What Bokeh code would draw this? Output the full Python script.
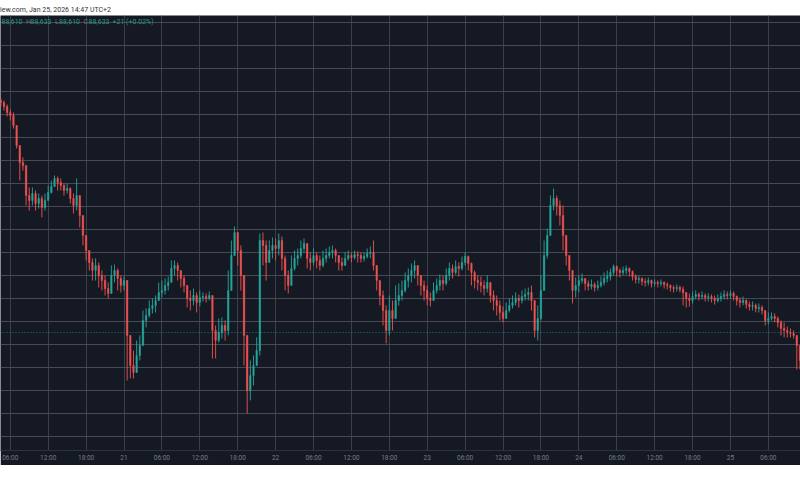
from bokeh.plotting import figure
from bokeh.models import (Range1d, FixedTicker, SingleIntervalTicker, Grid, Span,
                          Label, Div, ColumnDataSource)
from bokeh.layouts import column
from bokeh.embed import file_html
from bokeh.resources import INLINE

# ---------------- data (BTC/USD, 30-minute candles, UTC+2) ----------------
start_hour = 4.5      # first candle: 2026-01-20 04:30, hours after Jan 20 00:00
bar_hours = 0.5       # 30-minute candles
first_open = 91155

closes = [
    91133, 91090, 91025, 90992, 90883, 90666, 90481, 90448, 90122, 90068,
    90144, 90035, 90090, 89992, 90068, 90155, 90220, 90307, 90263, 90231,
    90177, 90198, 90090, 90014, 90122, 89905, 89688, 89524, 89394, 89307,
    89361, 89253, 89198, 89111, 89057, 89253, 89307, 89220, 89144, 89198,
    88601, 88274, 88198, 88383, 88492, 88764, 88818, 88894, 88927, 88981,
    89068, 89090, 89144, 89177, 89329, 89361, 89307, 89220, 89144, 89003,
    88981, 89035, 88959, 89014, 89024, 89003, 89035, 88655, 88546, 88633,
    88709, 88655, 89090, 89470, 89720, 89524, 89253, 88601, 88002, 88166,
    88274, 88437, 89633, 89579, 89394, 89524, 89579, 89546, 89633, 89438,
    89253, 89144, 89329, 89438, 89470, 89546, 89601, 89438, 89394, 89470,
    89416, 89361, 89438, 89470, 89503, 89524, 89470, 89394, 89361, 89438,
    89470, 89448, 89481, 89470, 89438, 89459, 89492, 89503, 89361, 89198,
    89035, 88872, 88655, 88872, 88785, 88981, 89035, 89090, 89198, 89253,
    89307, 89361, 89253, 89144, 89090, 89003, 88981, 89090, 89144, 89198,
    89166, 89253, 89329, 89285, 89350, 89329, 89394, 89459, 89383, 89285,
    89198, 89177, 89144, 89111, 89177, 89035, 88981, 88927, 88851, 88785,
    88872, 88927, 88959, 89003, 88981, 89024, 89046, 89068, 88981, 88655,
    88785, 89090, 89470, 89688, 90014, 90090, 90014, 89905, 89688, 89470,
    89307, 89090, 89144, 89198, 89220, 89166, 89133, 89155, 89122, 89144,
    89177, 89220, 89242, 89285, 89350, 89307, 89285, 89307, 89329, 89296,
    89242, 89209, 89220, 89188, 89177, 89198, 89166, 89177, 89166, 89177,
    89155, 89144, 89122, 89111, 89122, 89101, 89068, 89003, 88981, 89024,
    89046, 89024, 89035, 89014, 89024, 89003, 88981, 89003, 89024, 89046,
    89035, 89057, 89024, 88981, 88959, 88981, 88937, 88916, 88927, 88894,
    88905, 88872, 88764, 88785, 88807, 88785, 88742, 88677, 88655, 88633,
    88622, 88601, 88492, 88329,
]

highs = [
    91177, 91155, 91112, 91057, 91025, 90850, 90611, 90535, 90448, 90209,
    90209, 90177, 90144, 90122, 90144, 90231, 90285, 90340, 90329, 90307,
    90253, 90253, 90209, 90144, 90307, 90035, 89851, 89633, 89524, 89438,
    89438, 89394, 89307, 89253, 89177, 89361, 89372, 89329, 89253, 89242,
    89177, 88601, 88437, 88546, 88601, 88872, 88894, 88981, 89003, 89035,
    89177, 89198, 89220, 89242, 89416, 89416, 89394, 89307, 89253, 89111,
    89090, 89111, 89068, 89090, 89068, 89057, 89079, 89003, 88709, 88785,
    88796, 88764, 89307, 89633, 89785, 89688, 89579, 89253, 88437, 88329,
    88383, 88579, 89709, 89720, 89633, 89633, 89666, 89655, 89709, 89677,
    89470, 89307, 89470, 89524, 89546, 89633, 89655, 89546, 89503, 89546,
    89503, 89470, 89524, 89546, 89568, 89579, 89546, 89470, 89448, 89503,
    89524, 89503, 89524, 89514, 89503, 89503, 89546, 89568, 89633, 89361,
    89198, 89090, 88927, 89035, 88981, 89144, 89166, 89198, 89285, 89329,
    89383, 89416, 89361, 89253, 89198, 89144, 89068, 89177, 89220, 89264,
    89253, 89329, 89394, 89372, 89416, 89394, 89459, 89503, 89470, 89394,
    89307, 89253, 89242, 89198, 89253, 89144, 89090, 89035, 88981, 88916,
    88959, 89003, 89035, 89068, 89046, 89090, 89111, 89122, 89144, 88981,
    88927, 89253, 89633, 89764, 90122, 90198, 90122, 90068, 90014, 89633,
    89470, 89307, 89231, 89253, 89275, 89220, 89198, 89209, 89177, 89198,
    89242, 89285, 89307, 89329, 89372, 89361, 89329, 89350, 89361, 89340,
    89307, 89264, 89253, 89231, 89220, 89231, 89209, 89209, 89198, 89209,
    89188, 89177, 89155, 89144, 89155, 89144, 89133, 89068, 89057, 89079,
    89090, 89068, 89079, 89057, 89057, 89046, 89035, 89046, 89068, 89090,
    89079, 89090, 89079, 89035, 89014, 89024, 88992, 88970, 88970, 88948,
    88948, 88927, 88872, 88851, 88851, 88840, 88807, 88764, 88742, 88698,
    88677, 88655, 88601, 88492,
]

lows = [
    91090, 91046, 90981, 90938, 90850, 90633, 90285, 90394, 90014, 89959,
    90014, 89959, 89981, 89883, 89959, 90068, 90144, 90220, 90177, 90177,
    90122, 90144, 90035, 89927, 89959, 89775, 89579, 89416, 89307, 89198,
    89198, 89122, 89090, 89035, 89003, 89090, 89177, 89090, 89068, 89090,
    88111, 88133, 88133, 88274, 88329, 88492, 88688, 88796, 88840, 88851,
    88981, 89014, 89046, 89090, 89177, 89253, 89198, 89122, 89068, 88905,
    88872, 88927, 88851, 88916, 88970, 88959, 88981, 88351, 88351, 88524,
    88568, 88546, 88601, 89253, 89524, 89361, 89090, 88274, 87753, 87894,
    88057, 88329, 88383, 89361, 89198, 89394, 89438, 89416, 89470, 89307,
    89090, 89057, 89144, 89307, 89361, 89438, 89503, 89329, 89307, 89361,
    89329, 89307, 89340, 89394, 89438, 89438, 89394, 89307, 89307, 89361,
    89416, 89394, 89427, 89394, 89394, 89405, 89438, 89438, 89307, 89090,
    88927, 88709, 88514, 88601, 88655, 88818, 88927, 88981, 89068, 89122,
    89177, 89220, 89144, 89035, 88981, 88927, 88916, 89003, 89057, 89090,
    89090, 89144, 89198, 89220, 89264, 89242, 89307, 89361, 89307, 89144,
    89111, 89090, 89068, 89035, 89068, 88959, 88872, 88818, 88764, 88742,
    88785, 88851, 88894, 88927, 88905, 88948, 88981, 88981, 88872, 88579,
    88546, 88764, 89198, 89438, 89720, 89959, 89905, 89796, 89524, 89361,
    89198, 88948, 89014, 89068, 89166, 89090, 89090, 89101, 89079, 89090,
    89122, 89144, 89177, 89198, 89253, 89242, 89231, 89253, 89264, 89242,
    89198, 89166, 89166, 89144, 89133, 89144, 89122, 89133, 89122, 89133,
    89111, 89101, 89079, 89068, 89079, 89068, 88927, 88905, 88916, 88948,
    88992, 88981, 88992, 88970, 88970, 88959, 88937, 88959, 88970, 88992,
    88992, 89003, 88981, 88927, 88905, 88927, 88894, 88872, 88872, 88851,
    88851, 88829, 88709, 88720, 88764, 88742, 88688, 88601, 88579, 88579,
    88579, 88568, 88231, 88231,
]

# x-axis ticks (hours after 2026-01-20 00:00) and their labels
tick_hours = [6, 12, 18, 24, 30, 36, 42, 48, 54, 60, 66, 72,
              78, 84, 90, 96, 102, 108, 114, 120, 126]
tick_labels = ["06:00", "12:00", "18:00", "21", "06:00", "12:00", "18:00", "22",
               "06:00", "12:00", "18:00", "23", "06:00", "12:00", "18:00", "24",
               "06:00", "12:00", "18:00", "25", "06:00"]

# header / legend values (current bar)
header = "iew.com, Jan 25, 2026 14:47 UTC+2"
last_open, last_high, last_low, last_close = 88610, 88633, 88610, 88633
change, change_pct = 21, 0.02

# ---------------- styling ----------------
BG = "#151924"
UP = "#26a69a"
DOWN = "#ef5350"
HGRID = "#474a54"
VGRID = "#3c3f49"
AXIS_TXT = "#787b86"
FONT = "Roboto"

n = min(len(closes), len(highs), len(lows))
opens = [first_open] + closes[:n - 1]
xs = [start_hour + bar_hours * i for i in range(n)]
colors, tops, bottoms, wtop, wbot = [], [], [], [], []
for i in range(n):
    o, c, h, l = opens[i], closes[i], highs[i], lows[i]
    colors.append(UP if c >= o else DOWN)
    tops.append(max(o, c))
    bottoms.append(min(o, c))
    wtop.append(max(h, o, c))
    wbot.append(min(l, o, c))

src = ColumnDataSource(dict(x=xs, top=tops, bottom=bottoms, wt=wtop, wb=wbot, color=colors))

x0, x1 = 4.449, 131.09
y0, y1 = 87350, 92079

p = figure(width=800, height=450, output_backend="svg", toolbar_location=None,
           x_range=Range1d(x0, x1), y_range=Range1d(y0, y1),
           y_axis_location=None,
           min_border_left=0, min_border_right=0, min_border_top=0, min_border_bottom=15,
           background_fill_color=BG, border_fill_color=BG, outline_line_color=None)

# grids
ticker_x = FixedTicker(ticks=tick_hours)
p.xaxis.ticker = ticker_x
p.xgrid.ticker = ticker_x
p.xgrid.grid_line_color = VGRID
p.xgrid.grid_line_width = 1
p.add_layout(Grid(dimension=1, ticker=SingleIntervalTicker(interval=250, num_minor_ticks=0),
                  grid_line_color=HGRID, grid_line_width=1))

# x axis
p.xaxis.major_label_overrides = {h: lab for h, lab in zip(tick_hours, tick_labels)}
p.xaxis.major_tick_out = 0
p.xaxis.major_tick_in = 0
p.xaxis.minor_tick_out = 0
p.xaxis.minor_tick_in = 0
p.xaxis.axis_line_color = "#2e323e"
p.xaxis.major_label_text_color = AXIS_TXT
p.xaxis.major_label_text_font = FONT
p.xaxis.major_label_text_font_size = "6.5px"
p.xaxis.major_label_standoff = 3

# candles
p.segment(x0="x", y0="wt", x1="x", y1="wb", line_color="color", line_width=1,
          line_alpha=0.9, source=src)
p.vbar(x="x", width=bar_hours * 0.45, top="top", bottom="bottom",
       fill_color="color", line_color="color", line_width=0.5, source=src)

# current price line
p.add_layout(Span(location=last_close, dimension="width", line_color=UP,
                  line_dash="1 2", line_width=1, line_alpha=0.7))

# OHLC legend line
pieces = [
    (f"{last_open:,}", 1, UP),
    ("H", 25.5, AXIS_TXT), (f"{last_high:,}", 30, UP),
    ("L", 54.5, AXIS_TXT), (f"{last_low:,}", 58.5, UP),
    ("C", 83, AXIS_TXT), (f"{last_close:,}", 88, UP),
    (f"+{change} (+{change_pct:.2f}%)", 112, UP),
]
for txt, off, col in pieces:
    p.add_layout(Label(x=x0, y=y1, x_offset=off, y_offset=-6, text=txt,
                       text_color=col, text_font=FONT, text_font_size="7px",
                       text_baseline="middle", text_align="left", text_alpha=0.9))

head = Div(text=f'<span style="font-family:{FONT};font-size:7px;color:#333333;'
                f'line-height:15px;white-space:nowrap;">{header}</span>',
           width=800, height=15, styles={"background-color": "#ffffff", "margin": "0"})

layout = column(head, p, spacing=0)

html = file_html(layout, INLINE, title="chart")
html = html.replace("<head>", "<head><style>html,body{margin:0;padding:0;background:#ffffff;}</style>", 1)
open("out.html", "w").write(html)
